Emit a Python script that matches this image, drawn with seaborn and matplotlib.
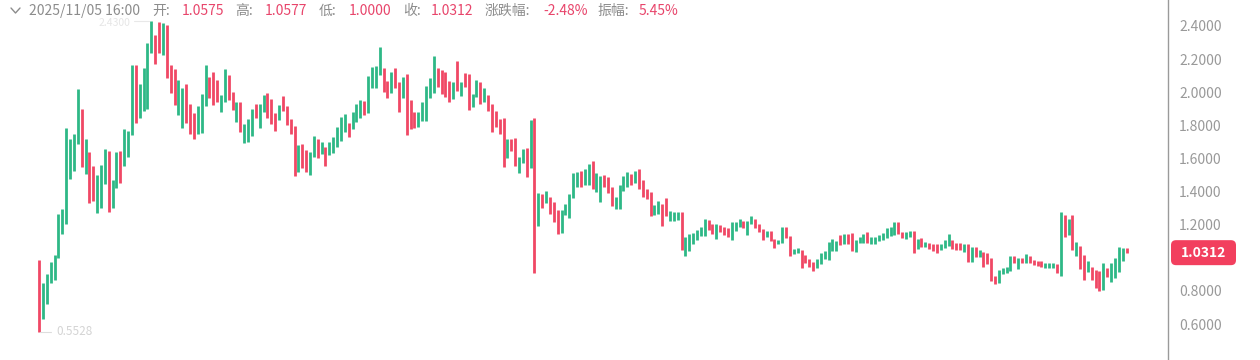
import matplotlib
matplotlib.use("Agg")
import matplotlib.pyplot as plt
from matplotlib.patches import FancyBboxPatch
from matplotlib.lines import Line2D
import seaborn as sns
import numpy as np

sns.set_theme(style="white")
plt.rcParams["font.family"] = ["Noto Sans CJK SC", "DejaVu Sans"]

GREEN = "#2EB886"
RED = "#F04865"

# candle opens / closes, oldest first
opens = [
    0.985, 0.63, 0.72, 0.848, 0.866, 1.0, 1.145, 1.205, 1.476, 1.524,
    1.69, 1.90, 1.506, 1.64, 1.555, 1.27, 1.30, 1.446, 1.645, 1.30,
    1.42, 1.645, 1.555, 1.609, 1.742, 2.165, 1.844, 1.887, 1.90, 2.237,
    2.346, 2.424, 2.225, 2.406, 2.165, 2.14, 1.862, 1.784, 2.05, 1.929,
    1.875, 1.748, 1.754, 1.917, 2.092, 2.12, 2.074, 1.88, 1.941, 2.104,
    2.0, 1.82, 1.941, 1.694, 1.70, 1.736, 1.929, 1.784, 1.88, 1.995,
    1.96, 1.875, 1.832, 1.977, 1.917, 1.838, 1.796, 1.518, 1.687, 1.651,
    1.50, 1.609, 1.718, 1.627, 1.669, 1.621, 1.633, 1.669, 1.706, 1.76,
    1.814, 1.778, 1.82, 1.844, 1.947, 1.875, 2.026, 2.026, 2.104, 2.147,
    2.068, 1.995, 2.147, 2.062, 1.965, 2.11, 1.953, 1.88, 1.79, 1.826,
    1.826, 1.965, 1.995, 2.147, 2.134, 2.122, 2.068, 1.96, 2.19, 1.977,
    2.116, 2.11, 1.911, 1.971, 2.062, 1.941, 1.983, 1.929, 1.887, 1.838,
    1.844, 1.60, 1.718, 1.724, 1.512, 1.573, 1.663, 1.542, 1.844, 1.192,
    1.386, 1.331, 1.367, 1.337, 1.289, 1.15, 1.259, 1.24, 1.361, 1.428,
    1.524, 1.44, 1.44, 1.585, 1.40, 1.337, 1.50, 1.488, 1.428, 1.295,
    1.295, 1.404, 1.428, 1.506, 1.452, 1.536, 1.47, 1.416, 1.398, 1.259,
    1.265, 1.325, 1.361, 1.223, 1.223, 1.229, 1.277, 1.012, 1.041, 1.084,
    1.108, 1.132, 1.132, 1.229, 1.204, 1.114, 1.198, 1.186, 1.18, 1.108,
    1.162, 1.186, 1.223, 1.138, 1.204, 1.235, 1.204, 1.174, 1.126, 1.162,
    1.114, 1.084, 1.09, 1.186, 1.132, 1.024, 1.03, 1.048, 1.018, 0.993,
    0.975, 0.939, 0.963, 0.993, 0.987, 1.042, 1.042, 1.138, 1.084, 1.144,
    1.15, 1.036, 1.09, 1.09, 1.156, 1.084, 1.084, 1.102, 1.108, 1.12,
    1.132, 1.138, 1.217, 1.156, 1.114, 1.126, 1.162, 1.054, 1.12, 1.066,
    1.09, 1.084, 1.084, 1.048, 1.06, 1.072, 1.108, 1.09, 1.09, 1.036,
    1.084, 0.975, 1.066, 1.006, 1.036, 1.03, 1.0, 0.89, 0.848, 0.902,
    0.908, 0.921, 1.012, 0.933, 1.0, 0.969, 1.012, 0.987, 0.981, 0.981,
    0.939, 0.939, 0.939, 0.963, 0.89, 1.259, 1.138, 1.259, 1.012, 1.072,
    1.018, 0.915, 0.945, 0.927, 0.921, 0.806, 0.939, 0.854, 0.878, 0.915,
    0.981, 1.0575,
]
closes = [
    0.5528, 0.848, 0.90, 0.975, 1.02, 1.265, 1.295, 1.785, 1.718, 1.748,
    2.02, 1.55, 1.718, 1.33, 1.343, 1.50, 1.56, 1.657, 1.277, 1.47,
    1.64, 1.452, 1.778, 1.766, 2.165, 1.814, 2.05, 2.147, 2.297, 2.43,
    2.17, 2.237, 2.418, 2.086, 1.995, 1.923, 2.074, 2.026, 1.814, 1.748,
    1.718, 1.917, 1.99, 2.165, 1.965, 1.923, 1.941, 1.983, 2.14, 1.953,
    1.893, 1.941, 1.76, 1.808, 1.838, 1.90, 1.844, 1.929, 1.983, 1.844,
    1.808, 1.766, 1.923, 1.887, 1.802, 1.748, 1.494, 1.68, 1.542, 1.518,
    1.64, 1.736, 1.60, 1.70, 1.555, 1.70, 1.73, 1.79, 1.85, 1.869,
    1.73, 1.88, 1.929, 1.953, 1.862, 2.098, 2.152, 2.158, 2.273, 2.0,
    1.965, 2.12, 2.026, 1.88, 2.092, 1.742, 1.778, 1.784, 1.88, 1.941,
    2.038, 2.086, 2.219, 2.032, 1.99, 1.971, 1.941, 2.062, 2.006, 2.062,
    2.032, 1.893, 1.99, 2.074, 1.929, 2.026, 1.887, 1.76, 1.79, 1.748,
    1.548, 1.718, 1.645, 1.555, 1.609, 1.657, 1.488, 1.832, 0.908, 1.392,
    1.30, 1.404, 1.265, 1.217, 1.144, 1.289, 1.325, 1.386, 1.512, 1.518,
    1.428, 1.536, 1.566, 1.416, 1.512, 1.494, 1.428, 1.392, 1.313, 1.367,
    1.44, 1.494, 1.518, 1.44, 1.524, 1.416, 1.367, 1.355, 1.253, 1.319,
    1.343, 1.192, 1.253, 1.283, 1.277, 1.277, 1.048, 1.126, 1.144, 1.15,
    1.168, 1.186, 1.235, 1.168, 1.144, 1.204, 1.156, 1.138, 1.126, 1.217,
    1.217, 1.235, 1.18, 1.223, 1.253, 1.18, 1.156, 1.108, 1.162, 1.102,
    1.06, 1.108, 1.186, 1.12, 1.012, 1.054, 1.06, 0.939, 0.969, 0.945,
    0.921, 0.993, 1.03, 1.042, 1.096, 1.114, 1.102, 1.078, 1.144, 1.084,
    1.042, 1.108, 1.126, 1.144, 1.09, 1.126, 1.126, 1.138, 1.15, 1.18,
    1.186, 1.217, 1.144, 1.12, 1.156, 1.162, 1.03, 1.114, 1.066, 1.096,
    1.054, 1.042, 1.03, 1.084, 1.108, 1.144, 1.054, 1.048, 1.048, 1.084,
    0.975, 1.066, 1.006, 1.048, 0.945, 0.963, 0.86, 0.842, 0.927, 0.939,
    0.945, 1.012, 0.969, 1.0, 0.969, 1.024, 0.969, 0.957, 0.951, 0.945,
    0.969, 0.969, 0.969, 0.908, 1.277, 1.126, 1.235, 1.05, 1.096, 0.933,
    0.866, 0.981, 0.866, 0.818, 0.80, 0.969, 0.884, 0.969, 1.0, 1.066,
    1.06, 1.0312,
]

header_labels = ["开:", "高:", "低:", "收:", "涨跌幅:", "振幅:"]
header_values = ["1.0575", "1.0577", "1.0000", "1.0312", "-2.48%", "5.45%"]
header_time = "2025/11/05 16:00"
# 1.0000 sits under the last-price tag, so it is not listed
yticks = [0.6, 0.8, 1.2, 1.4, 1.6, 1.8, 2.0, 2.2, 2.4]

opens = np.array(opens)
closes = np.array(closes)
idx = np.arange(len(opens))
colors = [GREEN if c >= o else RED for o, c in zip(opens, closes)]

W, H = 1260, 360
fig = plt.figure(figsize=(W / 100, H / 100), dpi=100)
ax = fig.add_axes([0, 0, 1168 / W, 1])

ax.vlines(idx, np.minimum(opens, closes), np.maximum(opens, closes),
          colors=colors, linewidth=2.0)

ax.set_xlim(-10.1, 291.7)
ax.set_ylim(0.383, 2.557)
ax.set_xticks([])
ax.set_yticks(yticks)
ax.set_yticklabels([f"{v:.4f}" for v in yticks])
ax.yaxis.tick_right()
ax.tick_params(axis="y", length=0, pad=8, labelsize=10, labelcolor="#999999")
for s in ["top", "left", "bottom"]:
    ax.spines[s].set_visible(False)
ax.spines["right"].set_color("#9a9a9a")
ax.spines["right"].set_linewidth(1.0)
ax.grid(False)

# faint min / max markers
i_lo = int(np.argmin(closes))
lo = closes[i_lo]
ax.plot([i_lo + 0.2, i_lo + 3.2], [lo, lo], color="#dddddd", lw=0.8)
ax.text(i_lo + 4.5, lo, f"{lo:.4f}", color="#d4d4d4", fontsize=8.5, va="center")
i_hi = int(np.argmax(np.maximum(opens, closes)))
hi = max(opens[i_hi], closes[i_hi])
ax.plot([i_hi - 4.5, i_hi - 0.5], [hi, hi], color="#e8e8e8", lw=0.8)
ax.text(i_hi - 5.5, hi - 0.012, f"{hi:.4f}", color="#e6e6e6", fontsize=7.5,
        va="center", ha="right")

# last price tag on the axis
fig.canvas.draw()
y_disp = ax.transData.transform((0, closes[-1]))[1]
box_h = 25
box = FancyBboxPatch((1171 / 100, (y_disp - box_h / 2) / 100), 65 / 100, box_h / 100,
                     boxstyle="round,pad=0,rounding_size=0.05",
                     transform=fig.dpi_scale_trans, facecolor="#F23F5E",
                     edgecolor="none", zorder=10)
fig.add_artist(box)
fig.text(1203.5 / W, y_disp / H, f"{closes[-1]:.4f}", color="white",
         fontsize=10, fontweight="bold", ha="center", va="center", zorder=11)

# header line
ty = 1 - 11 / H
fig.add_artist(Line2D([11 / W, 15.5 / W, 20 / W], [1 - 8 / H, 1 - 13 / H, 1 - 8 / H],
                      color="#8c8c8c", lw=1.0))
fig.text(29 / W, ty, header_time, color="#8c8c8c", fontsize=10, va="center")
label_x = [152, 235, 319, 403, 485, 597]
value_x = [182, 265, 349, 431, 543, 639]
for lab, lx, val, vx in zip(header_labels, label_x, header_values, value_x):
    fig.text(lx / W, ty, lab, color="#8c8c8c", fontsize=10, va="center")
    fig.text(vx / W, ty, val, color="#E8456B", fontsize=10, va="center")

fig.savefig("out.png", dpi=100)
